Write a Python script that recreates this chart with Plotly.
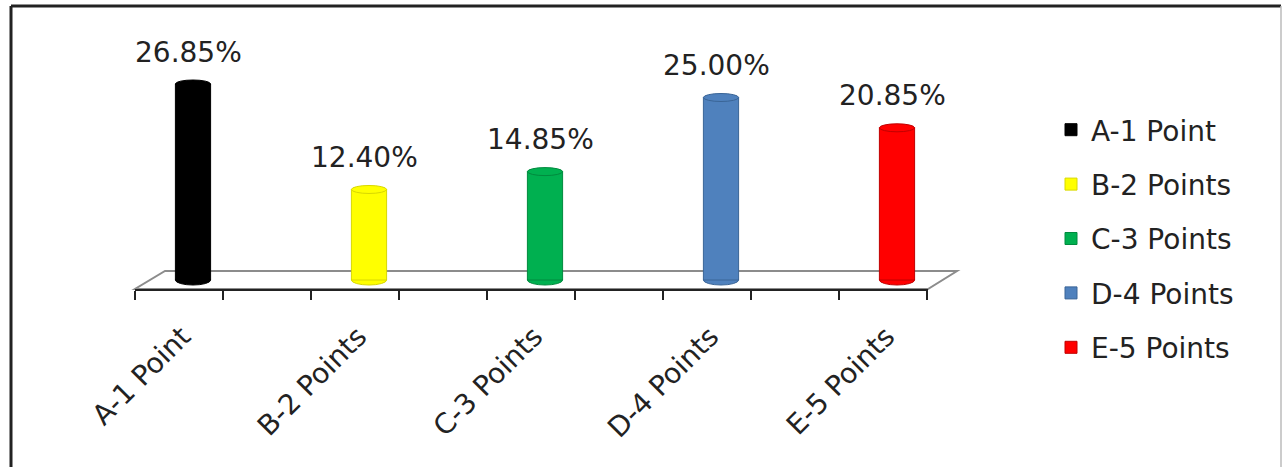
import plotly.graph_objects as go

# Chart data
categories = ["A-1 Point", "B-2 Points", "C-3 Points", "D-4 Points", "E-5 Points"]
percentages = [26.85, 12.40, 14.85, 25.00, 20.85]
colors = ["#000000", "#FFFF00", "#00B050", "#4F81BD", "#FF0000"]
edge_colors = ["#000000", "#D8D800", "#008A3E", "#3A6597", "#C00000"]

W, H = 1283, 467
# plot area in pixels
PL, PR, PT, PB = 135, 928, 20, 289
px_per_unit = 7.3
zero_px = 280


def px2paper(px, py):
    return (px - PL) / (PR - PL), (PB - py) / (PB - PT)


positions = list(range(len(categories)))
bar_w = 0.2

fig = go.Figure()

for i, (cat, val, col, ecol) in enumerate(zip(categories, percentages, colors, edge_colors)):
    fig.add_trace(go.Bar(
        x=[positions[i]], y=[val], name=cat, width=bar_w,
        marker=dict(color=col, line=dict(color=ecol, width=1)),
        legendgroup=cat, hoverinfo="skip",
    ))

shapes = []

# floor plane (parallelogram)
fl = [(135, 289), (928, 289), (957, 271), (165, 271)]
pts = [px2paper(*p) for p in fl]
path = "M " + " L ".join(f"{x},{y}" for x, y in pts) + " Z"
shapes.append(dict(type="path", xref="paper", yref="paper", path=path,
                   fillcolor="white", line=dict(color="#8c8c8c", width=2), layer="below"))

# rounded ends of the cylinders
for i, (val, col, ecol) in enumerate(zip(percentages, colors, edge_colors)):
    x0, x1 = positions[i] - bar_w / 2, positions[i] + bar_w / 2
    shapes.append(dict(type="circle", xref="x", yref="y", ysizemode="pixel",
                       yanchor=0, x0=x0, x1=x1, y0=-5, y1=5,
                       fillcolor=col, line=dict(color=ecol, width=1), layer="below"))
    shapes.append(dict(type="circle", xref="x", yref="y", ysizemode="pixel",
                       yanchor=val, x0=x0, x1=x1, y0=-4, y1=4,
                       fillcolor=col, line=dict(color=ecol, width=1), layer="above"))

# outer frame
lx, ty = px2paper(11, 6)
rx, by = px2paper(1281, 470)
shapes.append(dict(type="line", xref="paper", yref="paper", x0=lx, x1=lx, y0=by, y1=ty,
                   line=dict(color="#222222", width=3)))
shapes.append(dict(type="line", xref="paper", yref="paper", x0=lx, x1=rx, y0=ty, y1=ty,
                   line=dict(color="#222222", width=3)))
shapes.append(dict(type="line", xref="paper", yref="paper", x0=rx, x1=rx, y0=by, y1=ty,
                   line=dict(color="#bbbbbb", width=1.5)))

annotations = []
for i, val in enumerate(percentages):
    annotations.append(dict(x=positions[i], y=val, text=f"{val:.2f}%", showarrow=False,
                            xshift=-5, yshift=32,
                            font=dict(family="DejaVu Sans", size=28, color="#222222")))

y_lo = (zero_px - PB) / px_per_unit
y_hi = (zero_px - PT) / px_per_unit
x_lo = (PL - 193) / 176
x_hi = (PR - 193) / 176
minor_ticks = [x_lo + 0.5 * k for k in range(10)]
label_ticks = [p - 0.06 for p in positions]

fig.update_layout(
    width=W, height=H,
    margin=dict(l=PL, r=W - PR, t=PT, b=H - PB),
    paper_bgcolor="white", plot_bgcolor="rgba(0,0,0,0)",
    shapes=shapes, annotations=annotations,
    showlegend=True, barmode="overlay",
    legend=dict(x=px2paper(1051, 0)[0], xanchor="left", y=px2paper(0, 105)[1], yanchor="top",
                font=dict(family="DejaVu Sans", size=28, color="#222222"),
                tracegroupgap=15, bgcolor="rgba(0,0,0,0)", maxheight=420),
    xaxis=dict(range=[x_lo, x_hi], tickmode="array", tickvals=label_ticks, ticktext=categories,
               tickangle=-45, ticks="", ticklabelstandoff=18,
               tickfont=dict(family="DejaVu Sans", size=28, color="#222222"),
               showline=True, linecolor="#222222", linewidth=2, showgrid=False, zeroline=False,
               minor=dict(tickmode="array", tickvals=minor_ticks, ticks="outside", ticklen=9,
                          tickwidth=2, tickcolor="#222222", showgrid=False)),
    yaxis=dict(range=[y_lo, y_hi], visible=False, showgrid=False, zeroline=False),
)

fig.write_html("out.html")
